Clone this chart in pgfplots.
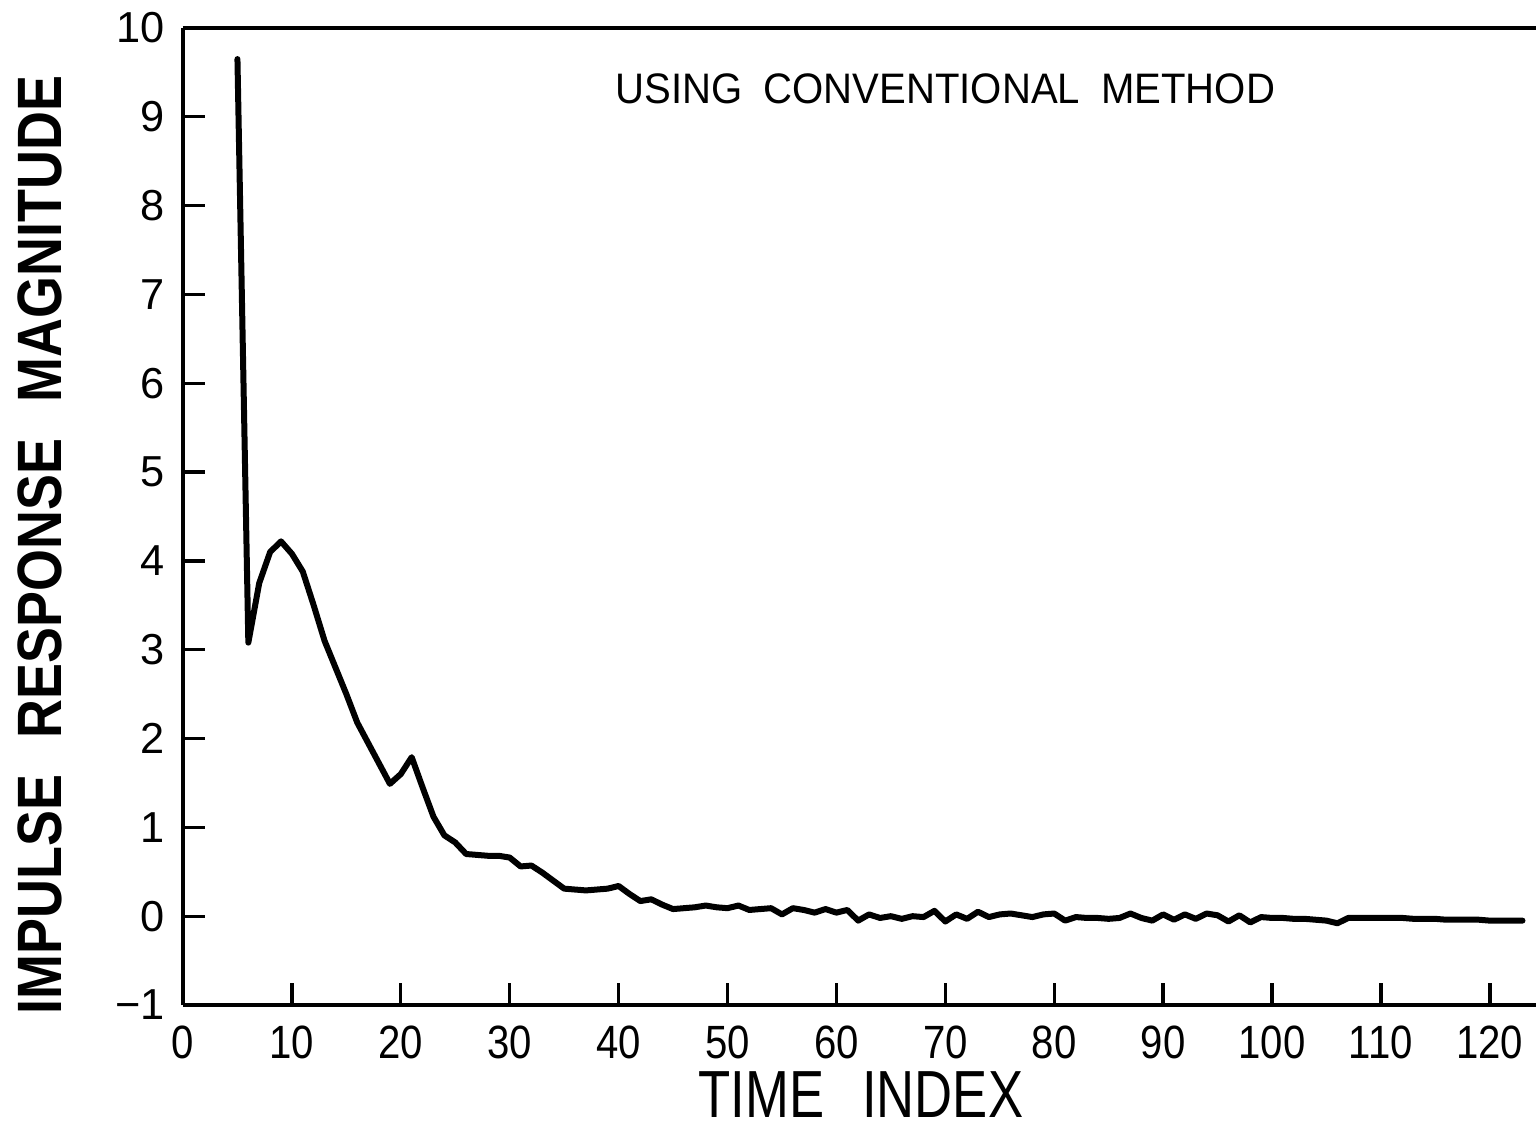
\documentclass[border=0pt]{standalone}
\usepackage{fontspec}
\setmainfont{Liberation Sans}
\newfontfamily\condfont[FakeStretch=0.86]{Liberation Sans}
\newfontfamily\xlabfont[FakeStretch=0.79]{Liberation Sans}
\newfontfamily\ylabfont[FakeStretch=0.86]{Liberation Sans}
\newfontfamily\titlefont[FakeStretch=0.94]{Liberation Sans}
\usepackage{pgfplots}
\pgfplotsset{compat=1.18}
\pgfplotstableread{
x y
5 9.65
6 3.08
7 3.75
8 4.10
9 4.22
10 4.08
11 3.88
12 3.50
13 3.10
14 2.80
15 2.50
16 2.18
17 1.95
18 1.72
19 1.49
20 1.60
21 1.79
22 1.45
23 1.12
24 0.91
25 0.83
26 0.70
27 0.69
28 0.68
29 0.68
30 0.66
31 0.56
32 0.57
33 0.49
34 0.40
35 0.31
36 0.30
37 0.29
38 0.30
39 0.31
40 0.34
41 0.25
42 0.17
43 0.19
44 0.13
45 0.08
46 0.09
47 0.10
48 0.12
49 0.10
50 0.09
51 0.12
52 0.07
53 0.08
54 0.09
55 0.02
56 0.09
57 0.07
58 0.04
59 0.08
60 0.04
61 0.07
62 -0.05
63 0.02
64 -0.02
65 0.00
66 -0.03
67 0.00
68 -0.01
69 0.06
70 -0.06
71 0.02
72 -0.03
73 0.05
74 -0.01
75 0.02
76 0.03
77 0.01
78 -0.01
79 0.02
80 0.03
81 -0.05
82 -0.01
83 -0.02
84 -0.02
85 -0.03
86 -0.02
87 0.03
88 -0.02
89 -0.05
90 0.02
91 -0.04
92 0.02
93 -0.03
94 0.03
95 0.01
96 -0.06
97 0.01
98 -0.07
99 -0.01
100 -0.02
101 -0.02
102 -0.03
103 -0.03
104 -0.04
105 -0.05
106 -0.08
107 -0.02
108 -0.02
109 -0.02
110 -0.02
111 -0.02
112 -0.02
113 -0.03
114 -0.03
115 -0.03
116 -0.04
117 -0.04
118 -0.04
119 -0.04
120 -0.05
121 -0.05
122 -0.05
123 -0.05
}\impulse
\begin{document}
\begin{tikzpicture}
\begin{axis}[
  at={(0pt,0pt)}, anchor=south west,
  scale only axis,
  width=405.9pt, height=293.1pt,
  xmin=0, xmax=124.24, ymin=-1, ymax=10,
  axis x line=bottom, axis y line=left,
  axis line style={-, line width=1pt, black},
  clip=false,
  xtick={0,10,...,120},
  xticklabels={0,10,20,30,40,50,60,70,80,90,100,110,120},
  ytick={-1,0,...,10},
  yticklabels={−1,0,1,2,3,4,5,6,7,8,9,10},
  tick align=inside,
  major tick length=6.5pt,
  tick style={line width=1pt, black},
  xticklabel style={font=\condfont\fontsize{14}{16}\selectfont, inner sep=0pt, anchor=north, yshift=-6pt},
  yticklabel style={font=\fontsize{13}{15}\selectfont, xshift=-2pt},
  xlabel={\xlabfont\fontsize{20}{22}\selectfont TIME\hspace{7pt} INDEX},
  xlabel style={at={(axis description cs:0.501,-0.092)}, anchor=center, inner sep=0pt},
  ylabel={\ylabfont\fontsize{18.8}{20}\bfseries\selectfont IMPULSE\hspace{6.5pt} RESPONSE\hspace{6.5pt} MAGNITUDE},
  ylabel style={at={(axis description cs:-0.1057,0.4708)}, anchor=center, inner sep=0pt, rotate=0},
]
\addplot[black, line width=1.8pt, line join=round, line cap=round] table[x=x,y=y] {\impulse};
\draw[line width=1pt] (rel axis cs:0,1) -- (rel axis cs:1,1);
\node[font=\titlefont\fontsize{12.8}{15}\selectfont, anchor=center] at (axis cs:70,9.31) {USING\hspace{3pt} CONVENTIONAL\hspace{3pt} METHOD};
\end{axis}
\pgfresetboundingbox
\path[use as bounding box] (-54.9pt,-38.7pt) rectangle (405.9pt,301.5pt);
\end{tikzpicture}
\end{document}
